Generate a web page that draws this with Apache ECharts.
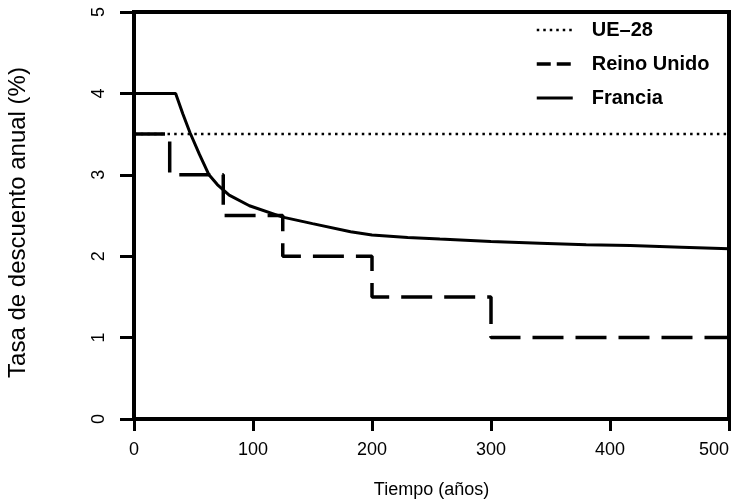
<!DOCTYPE html>
<html>
<head>
<meta charset="utf-8">
<script src="https://cdn.jsdelivr.net/npm/echarts@6/dist/echarts.min.js"></script>
<style>
  html, body { margin: 0; padding: 0; background: #fff; }
  #chart { width: 738px; height: 503px; }
</style>
</head>
<body>
<div id="chart"></div>
<script>
  // datos (anios, tasa %)
  var seriesNames = ['UE\u201328', 'Reino Unido', 'Francia']
  var ueData = [[0, 3.5], [500, 3.5]]
  // tramos del Green Book: el valor cambia al final de cada tramo
  var reinoUnidoData = [[0, 3.5], [30, 3.0], [75, 2.5], [125, 2.0], [200, 1.5], [300, 1.0], [500, 1.0]]
  var franciaData = [
    [0, 4.0], [35, 4.0], [41, 3.75], [47, 3.52], [55, 3.25], [63, 3.0],
    [70, 2.88], [80, 2.75], [97, 2.62], [125, 2.48], [150, 2.40], [182, 2.30],
    [200, 2.26], [230, 2.23], [257, 2.21], [300, 2.18], [341, 2.16],
    [380, 2.14], [417, 2.13], [460, 2.11], [500, 2.09]
  ]
  var xTicks = { min: 0, max: 500, interval: 100 }
  var yTicks = { min: 0, max: 5, interval: 1 }

  var font = 'Liberation Sans, Arial, sans-serif'
  var myChart = echarts.init(document.getElementById('chart'))

  var option = {
    animation: false,
    backgroundColor: '#fff',
    grid: {
      left: 134,
      right: 9,
      top: 12,
      bottom: 84,
      outerBoundsMode: 'none',
      containLabel: false,
      show: true,
      borderColor: '#000',
      borderWidth: 4
    },
    legend: {
      orient: 'vertical',
      left: 530,
      top: 15,
      itemWidth: 36,
      itemHeight: 14,
      itemGap: 14,
      itemStyle: { opacity: 0 }, // sin simbolo, solo la linea
      textStyle: {
        color: '#000',
        fontFamily: font,
        fontWeight: 'bold',
        fontSize: 20,
        padding: [0, 0, 0, 14]
      },
      data: [
        { name: seriesNames[0], lineStyle: { type: [2.5, 4], width: 2.5 } },
        { name: seriesNames[1], lineStyle: { type: [14, 6], width: 3.5 } },
        { name: seriesNames[2], lineStyle: { type: 'solid', width: 3 } }
      ]
    },
    xAxis: {
      type: 'value',
      min: xTicks.min,
      max: xTicks.max,
      interval: xTicks.interval,
      name: 'Tiempo (años)',
      nameLocation: 'middle',
      nameGap: 62,
      nameTextStyle: { color: '#000', fontFamily: font, fontSize: 18 },
      splitLine: { show: false },
      axisLine: { lineStyle: { color: '#000', width: 4 } },
      axisTick: { length: 12, lineStyle: { color: '#000', width: 3 } },
      axisLabel: { color: '#000', fontFamily: font, fontSize: 18, margin: 22, alignMaxLabel: 'right' }
    },
    yAxis: {
      type: 'value',
      min: yTicks.min,
      max: yTicks.max,
      interval: yTicks.interval,
      name: 'Tasa de descuento anual (%)',
      nameLocation: 'middle',
      nameGap: 104,
      nameTextStyle: { color: '#000', fontFamily: font, fontSize: 24, padding: [0, 14, 0, 0] },
      splitLine: { show: false },
      axisLine: { lineStyle: { color: '#000', width: 4 } },
      axisTick: { length: 14, lineStyle: { color: '#000', width: 3 } },
      axisLabel: { color: '#000', fontFamily: font, fontSize: 18, rotate: 90, margin: 26 }
    },
    series: [{
      name: seriesNames[0],
      type: 'line',
      symbol: 'none',
      data: ueData,
      lineStyle: { color: '#000', width: 2.5, type: [2.5, 4.2] },
      itemStyle: { color: '#000' }
    }, {
      name: seriesNames[1],
      type: 'line',
      symbol: 'none',
      step: 'end',
      data: reinoUnidoData,
      lineStyle: { color: '#000', width: 3.5, type: [31, 12] },
      itemStyle: { color: '#000' }
    }, {
      name: seriesNames[2],
      type: 'line',
      symbol: 'none',
      data: franciaData,
      lineStyle: { color: '#000', width: 3, type: 'solid' },
      itemStyle: { color: '#000' }
    }]
  }

  myChart.setOption(option)
</script>
</body>
</html>
